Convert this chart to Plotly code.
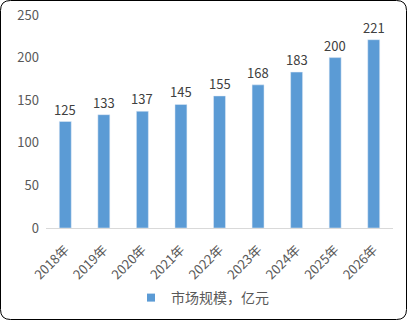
import plotly.graph_objects as go

years = ["2018年", "2019年", "2020年", "2021年", "2022年", "2023年", "2024年", "2025年", "2026年"]
values = [125, 133, 137, 145, 155, 168, 183, 200, 221]
series_name = "市场规模，亿元"
y_ticks = [0, 50, 100, 150, 200, 250]
bar_color = "#5B9BD5"

W, H = 407, 320
L, R, T, B = 46, 14, 15, 92
pw, ph = W - L - R, H - T - B

def px(x):
    return (x - L) / pw

def py(y):
    return (H - B - y) / ph

font = "Noto Sans CJK SC, sans-serif"

fig = go.Figure()
fig.add_trace(go.Bar(
    x=years, y=values, name=series_name,
    marker_color=bar_color, showlegend=False, legendgroup="s",
    cliponaxis=False,
))
# legend entry with small square marker
fig.add_trace(go.Scatter(
    x=[None], y=[None], mode="markers", name=series_name, legendgroup="s",
    marker=dict(symbol="square", size=8, color=bar_color),
))

for x, v in zip(years, values):
    fig.add_annotation(x=x, y=v, text=str(v), showarrow=False, yanchor="bottom",
                       yshift=1, font=dict(size=13, color="#404040", family=font))

# rounded border
r = 10
x0, x1, y0, y1 = 0.5, W - 0.5, 0.5, H - 0.5
path = (f"M {px(x0+r)},{py(y0)} L {px(x1-r)},{py(y0)} Q {px(x1)},{py(y0)} {px(x1)},{py(y0+r)} "
        f"L {px(x1)},{py(y1-r)} Q {px(x1)},{py(y1)} {px(x1-r)},{py(y1)} "
        f"L {px(x0+r)},{py(y1)} Q {px(x0)},{py(y1)} {px(x0)},{py(y1-r)} "
        f"L {px(x0)},{py(y0+r)} Q {px(x0)},{py(y0)} {px(x0+r)},{py(y0)} Z")
fig.add_shape(type="path", path=path, xref="paper", yref="paper",
              line=dict(color="#000000", width=1))

fig.update_layout(
    width=W, height=H,
    margin=dict(l=L, r=R, t=T, b=B, autoexpand=False),
    paper_bgcolor="white", plot_bgcolor="white",
    font=dict(family=font, color="#595959", size=12),
    bargap=0.69,
    showlegend=True,
    legend=dict(orientation="h", x=px(131), xanchor="left", y=py(298), yanchor="middle",
                font=dict(size=14, color="#595959"), itemwidth=30),
    xaxis=dict(tickangle=-45, showline=True, linecolor="#D9D9D9", linewidth=1, automargin=False,
               ticks="", ticklabelstandoff=8, tickfont=dict(size=13, color="#595959")),
    yaxis=dict(range=[0, 250], tickvals=y_ticks, showgrid=False, zeroline=False, automargin=False,
               showline=False, ticks="", ticklabelstandoff=6,
               tickfont=dict(size=13, color="#595959")),
)
fig.write_html("out.html")
